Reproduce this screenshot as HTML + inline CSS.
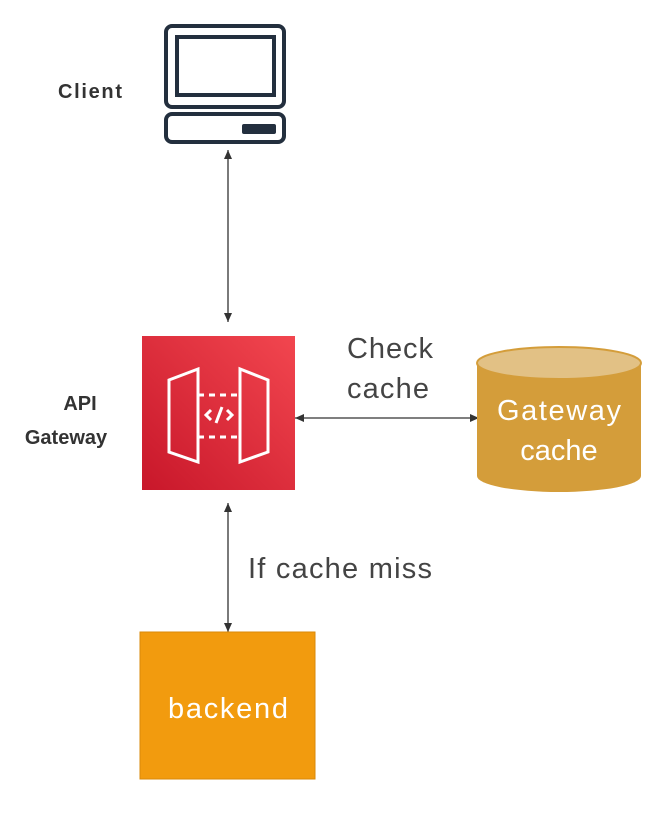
<!DOCTYPE html>
<html><head><style>
body{margin:0;background:#fff;}
svg{display:block;}
</style></head><body>
<svg width="661" height="813" viewBox="0 0 661 813" xmlns="http://www.w3.org/2000/svg" font-family="Liberation Sans, sans-serif">
<defs>
<linearGradient id="rg" x1="0" y1="1" x2="1" y2="0">
<stop offset="0" stop-color="#C8172A"/><stop offset="1" stop-color="#F2464F"/>
</linearGradient>
<marker id="ah" markerWidth="10" markerHeight="10" refX="9" refY="5" orient="auto-start-reverse" markerUnits="userSpaceOnUse">
<path d="M0,1 L9,5 L0,9 z" fill="#333"/>
</marker>
</defs>
<g fill="none" stroke="#232F3E" stroke-width="4">
<rect x="166" y="26" width="118" height="81" rx="6"/>
<rect x="177" y="37" width="97" height="58"/>
<rect x="166" y="114" width="118" height="28" rx="6"/>
</g>
<rect x="242" y="124" width="34" height="10" rx="2" fill="#232F3E"/>
<text x="90" y="98" font-size="20" font-weight="bold" fill="#333" text-anchor="middle" textLength="64">Client</text>
<line x1="228" y1="150" x2="228" y2="322" stroke="#333" stroke-width="1.3" marker-start="url(#ah)" marker-end="url(#ah)"/>
<line x1="228" y1="503" x2="228" y2="632" stroke="#333" stroke-width="1.3" marker-start="url(#ah)" marker-end="url(#ah)"/>
<line x1="295" y1="418" x2="479" y2="418" stroke="#333" stroke-width="1.3" marker-start="url(#ah)" marker-end="url(#ah)"/>
<rect x="142" y="336" width="153" height="154" fill="url(#rg)"/>
<g fill="none" stroke="#fff" stroke-width="3">
<path d="M169,380 L198,369 L198,462 L169,452 z"/>
<path d="M268,380 L240,369 L240,462 L268,452 z"/>
<path d="M198,395 H240 M198,437 H240" stroke-dasharray="6,5"/>
<path d="M211,410 L206,415 L211,420 M227,410 L232,415 L227,420 M222,407 L216,423"/>
</g>
<text x="80" y="410" font-size="20" font-weight="bold" fill="#333" text-anchor="middle">API</text>
<text x="66" y="444" font-size="20" font-weight="bold" fill="#333" text-anchor="middle">Gateway</text>
<text x="347" y="358" font-size="29" fill="#444" textLength="86">Check</text>
<text x="347" y="398" font-size="29" fill="#444" textLength="82">cache</text>
<path d="M477,363 V476 A82,16 0 0 0 641,476 V363 z" fill="#D49D3A"/>
<ellipse cx="559" cy="363" rx="82" ry="16" fill="#E2C185" stroke="#D49D3A" stroke-width="2"/>
<text x="559" y="420" font-size="29" fill="#fff" text-anchor="middle" textLength="124">Gateway</text>
<text x="559" y="460" font-size="29" fill="#fff" text-anchor="middle">cache</text>
<text x="248" y="578" font-size="29" fill="#444" textLength="184">If cache miss</text>
<rect x="140" y="632" width="175" height="147" fill="#F29B0E" stroke="#D98A0A" stroke-width="1"/>
<text x="228" y="718" font-size="29" fill="#fff" text-anchor="middle" textLength="120">backend</text>
</svg>
</body></html>
